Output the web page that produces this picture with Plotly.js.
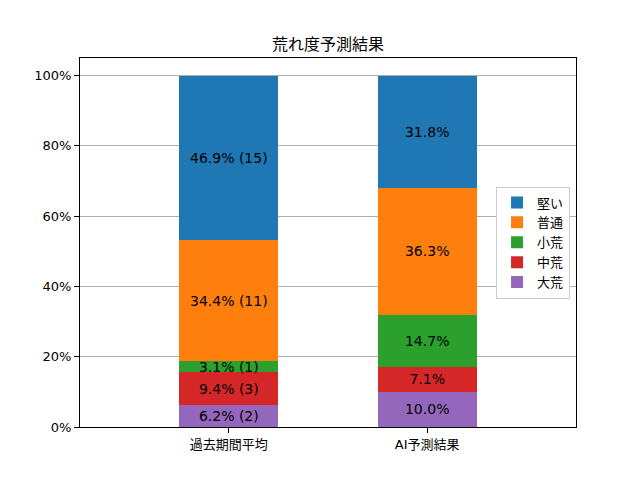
<!DOCTYPE html>
<html>
<head>
<meta charset="utf-8">
<script src="https://cdn.plot.ly/plotly-3.0.1.min.js"></script>
<style>body{margin:0;} #chart{width:640px;height:480px;}</style>
</head>
<body>
<div id="chart"></div>
<script>
var categories = ['過去期間平均', 'AI予測結果'];
var seriesNames = ['大荒', '中荒', '小荒', '普通', '堅い'];
var colors = ['#9467bd', '#d62728', '#2ca02c', '#ff7f0e', '#1f77b4'];

// percent per series, [past, ai]
var pastPct = [6.2, 9.4, 3.1, 34.4, 46.9];
var pastCount = [2, 3, 1, 11, 15];
var aiPct = [10.0, 7.1, 14.7, 36.3, 31.8];

var yTicks = [0, 20, 40, 60, 80, 100];
var yTickText = ['0%', '20%', '40%', '60%', '80%', '100%'];

var font = 'DejaVu Sans, Noto Sans CJK JP, sans-serif';

var data = [];
for (var i = 0; i < seriesNames.length; i++) {
  data.push({
    type: 'bar',
    name: seriesNames[i],
    x: [0, 1],
    y: [pastPct[i], aiPct[i]],
    width: 0.5,
    marker: { color: colors[i], line: { width: 0 } },
    text: [pastPct[i].toFixed(1) + '% (' + pastCount[i] + ')', aiPct[i].toFixed(1) + '%'],
    textposition: 'inside',
    insidetextanchor: 'middle',
    textangle: 0,
    constraintext: 'none',
    insidetextfont: { family: font, size: 14, color: 'black' },
    hoverinfo: 'none'
  });
}

var layout = {
  width: 640,
  height: 480,
  barmode: 'stack',
  paper_bgcolor: 'white',
  plot_bgcolor: 'white',
  margin: { l: 80, r: 64, t: 58, b: 53 },
  font: { family: font, size: 13, color: 'black' },
  title: {
    text: '荒れ度予測結果',
    font: { family: font, size: 16, color: 'black' },
    x: 0.5, xref: 'paper',
    y: 1 - 44 / 480, yref: 'container', yanchor: 'middle'
  },
  xaxis: {
    range: [-0.75, 1.75],
    tickvals: [0, 1],
    ticktext: categories,
    ticks: 'outside',
    ticklen: 5,
    tickcolor: 'black',
    showline: true,
    mirror: true,
    linecolor: 'black',
    linewidth: 1,
    showgrid: false,
    zeroline: false,
    tickfont: { family: font, size: 13, color: 'black' }
  },
  yaxis: {
    range: [0, 105],
    tickvals: yTicks,
    ticktext: yTickText,
    ticks: 'outside',
    ticklen: 5,
    tickcolor: 'black',
    showline: true,
    mirror: true,
    linecolor: 'black',
    linewidth: 1,
    showgrid: true,
    gridcolor: '#b0b0b0',
    gridwidth: 1,
    zeroline: false,
    tickfont: { family: font, size: 13, color: 'black' }
  },
  legend: {
    traceorder: 'reversed',
    x: 0.988, xanchor: 'right',
    y: 0.5, yanchor: 'middle',
    bgcolor: 'white',
    bordercolor: '#cccccc',
    borderwidth: 1,
    font: { family: font, size: 13, color: 'black' }
  },
  showlegend: true
};

Plotly.newPlot('chart', data, layout, { displayModeBar: false, staticPlot: true });
</script>
</body>
</html>
